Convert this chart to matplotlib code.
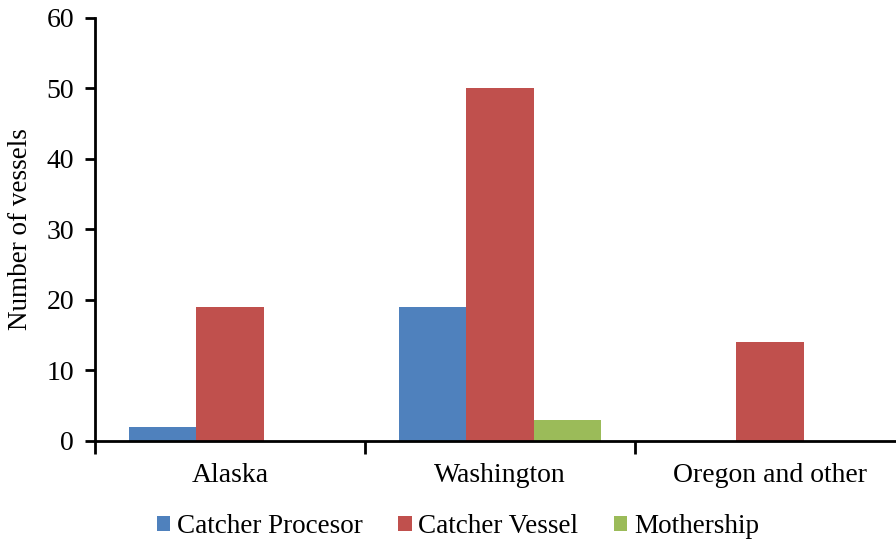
import numpy as np
import matplotlib.pyplot as plt

regions = ["Alaska", "Washington", "Oregon and other"]
series = ["Catcher Procesor", "Catcher Vessel", "Mothership"]
catcher_procesor = [2, 19, 0]
catcher_vessel = [19, 50, 14]
mothership = [0, 3, 0]
colors = ["#4F81BD", "#C0504D", "#9BBB59"]

plt.rcParams['font.family'] = ['Liberation Serif', 'DejaVu Serif']

fig = plt.figure(figsize=(8.96, 5.41), dpi=100)
# axes run slightly past the right edge of the figure
ax = fig.add_axes([0.106, 0.185, 0.904, 0.782])

x = np.arange(len(regions))
w = 0.25
for i, (vals, name) in enumerate(zip([catcher_procesor, catcher_vessel, mothership], series)):
    ax.bar(x + (i - 1) * w, vals, w, color=colors[i], label=name, linewidth=0)

ax.set_xlim(-0.5, 2.5)
ax.set_ylim(0, 60)
ax.set_yticks(range(0, 61, 10))
ax.tick_params(axis='y', labelsize=20, width=2, length=7, direction='out', pad=8)

# boundary ticks between categories, labels centred under each group
ax.set_xticks([-0.5, 0.5, 1.5, 2.5])
ax.set_xticklabels([])
ax.tick_params(axis='x', which='major', width=2, length=9, direction='out')
ax.set_xticks(x, minor=True)
ax.set_xticklabels(regions, minor=True)
ax.tick_params(axis='x', which='minor', length=0, labelsize=20, pad=16)

ax.set_ylabel("Number of vessels", fontsize=19.5)
ax.yaxis.set_label_coords(-0.077, 0.5)

for s in ['top', 'right']:
    ax.spines[s].set_visible(False)
for s in ['left', 'bottom']:
    ax.spines[s].set_linewidth(2)

fig.legend(loc='center', bbox_to_anchor=(0.511, 0.027), ncol=3, frameon=False,
           fontsize=19.5, handlelength=0.5, handleheight=0.5, handletextpad=0.25,
           columnspacing=1.3)

fig.savefig("out.png", dpi=100)
